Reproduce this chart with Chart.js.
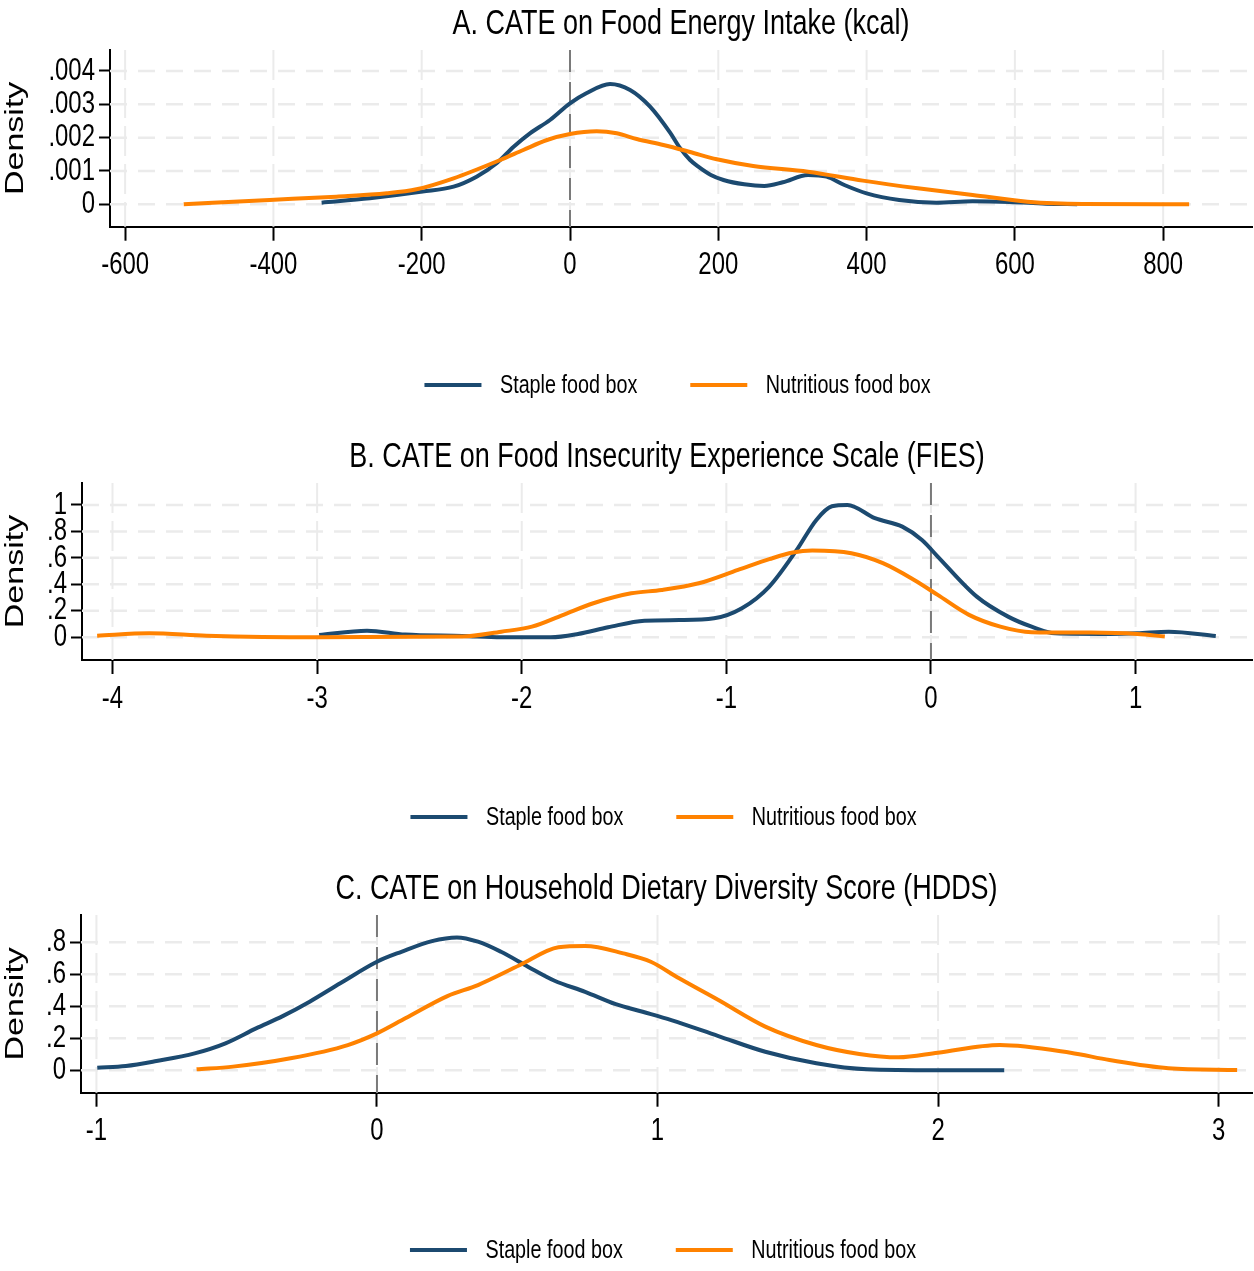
<!DOCTYPE html>
<html>
<head>
<meta charset="utf-8">
<script src="https://cdn.jsdelivr.net/npm/chart.js@4.4.1/dist/chart.umd.min.js"></script>
<style>
  html, body { margin: 0; padding: 0; background: #fff; overflow: hidden; }
  body { width: 1254px; height: 1271px; position: relative; }
  .panel { position: absolute; left: 0; width: 1254px; height: 415px; }
</style>
</head>
<body>
<div class="panel" style="top:0px"><canvas id="chartA"></canvas></div>
<div class="panel" style="top:433px"><canvas id="chartB"></canvas></div>
<div class="panel" style="top:865px"><canvas id="chartC"></canvas></div>
<script>
const seriesNames = ["Staple food box", "Nutritious food box"];

// A. food energy intake (kcal)
const aStapleX = [-335, -270, -199, -157, -126, -99, -76, -54, -27, 0, 22, 54, 81, 108, 135, 148, 162, 173, 190, 207, 235, 262, 287, 321, 346, 370, 400, 444, 494, 543, 593, 642, 684];
const aStapleY = [0.00005, 0.00018, 0.00038, 0.00053, 0.00083, 0.00123, 0.00173, 0.00213, 0.00253, 0.00303, 0.00333, 0.00361, 0.00343, 0.00293, 0.00215, 0.00170, 0.00133, 0.00113, 0.00088, 0.00073, 0.00060, 0.00055, 0.00066, 0.00088, 0.00083, 0.00058, 0.00033, 0.00013, 0.00005, 0.00009, 0.00007, 0.00002, 0];
const aNutriX = [-521, -405, -315, -247, -207, -157, -94, -63, -31, 0, 36, 63, 90, 126, 162, 198, 247, 321, 395, 469, 543, 617, 691, 835];
const aNutriY = [0, 0.00013, 0.00023, 0.00033, 0.00045, 0.00078, 0.00133, 0.00163, 0.00193, 0.00211, 0.00219, 0.00213, 0.00196, 0.00178, 0.00157, 0.00135, 0.00115, 0.00098, 0.00071, 0.00048, 0.00028, 0.00008, 0.00001, 0];
const aXTicks = [-600, -400, -200, 0, 200, 400, 600, 800];
const aYTicks = [0, 0.001, 0.002, 0.003, 0.004];
const aYTickLabels = ["0", ".001", ".002", ".003", ".004"];

// B. food insecurity experience scale
const bStapleX = [-2.99, -2.756, -2.57, -2.29, -2.1, -1.858, -1.725, -1.578, -1.4, -1.23, -1.06, -0.924, -0.79, -0.656, -0.56, -0.484, -0.408, -0.274, -0.14, -0.044, 0.033, 0.224, 0.377, 0.492, 0.607, 0.874, 1.008, 1.162, 1.392];
const bStapleY = [0.017, 0.05, 0.02, 0.01, 0, 0, 0.025, 0.075, 0.125, 0.13, 0.143, 0.219, 0.383, 0.66, 0.887, 0.99, 1.0, 0.9, 0.836, 0.735, 0.61, 0.307, 0.156, 0.08, 0.03, 0.025, 0.03, 0.042, 0.01];
const bNutriX = [-4.075, -3.82, -3.54, -3.0, -2.29, -2.1, -1.95, -1.8, -1.65, -1.465, -1.316, -1.135, -0.943, -0.79, -0.675, -0.58, -0.389, -0.235, -0.082, 0.033, 0.186, 0.339, 0.492, 0.779, 1.008, 1.143];
const bNutriY = [0.012, 0.03, 0.012, 0, 0.005, 0.042, 0.08, 0.168, 0.257, 0.332, 0.357, 0.408, 0.509, 0.59, 0.64, 0.655, 0.635, 0.56, 0.433, 0.32, 0.169, 0.08, 0.038, 0.035, 0.025, 0.005];
const bXTicks = [-4, -3, -2, -1, 0, 1];
const bYTicks = [0, 0.2, 0.4, 0.6, 0.8, 1];
const bYTickLabels = ["0", ".2", ".4", ".6", ".8", "1"];

// C. household dietary diversity score
const cStapleX = [-0.997, -0.895, -0.786, -0.65, -0.54, -0.431, -0.336, -0.24, -0.131, 0, 0.087, 0.196, 0.285, 0.36, 0.442, 0.538, 0.633, 0.742, 0.851, 0.947, 1.049, 1.217, 1.384, 1.566, 1.747, 2.0, 2.236];
const cStapleY = [0.016, 0.027, 0.058, 0.106, 0.169, 0.262, 0.339, 0.429, 0.544, 0.679, 0.741, 0.808, 0.831, 0.804, 0.741, 0.648, 0.56, 0.491, 0.414, 0.366, 0.314, 0.214, 0.116, 0.044, 0.006, 0, 0];
const cNutriX = [-0.643, -0.513, -0.308, -0.104, 0, 0.101, 0.251, 0.36, 0.51, 0.647, 0.742, 0.878, 0.976, 1.077, 1.217, 1.384, 1.566, 1.719, 1.859, 1.999, 2.22, 2.472, 2.611, 2.821, 3.066];
const cNutriY = [0.006, 0.023, 0.075, 0.158, 0.231, 0.325, 0.464, 0.533, 0.658, 0.769, 0.777, 0.731, 0.679, 0.575, 0.439, 0.273, 0.158, 0.102, 0.081, 0.11, 0.158, 0.11, 0.064, 0.013, 0.002];
const cXTicks = [-1, 0, 1, 2, 3];
const cYTicks = [0, 0.2, 0.4, 0.6, 0.8];
const cYTickLabels = ["0", ".2", ".4", ".6", ".8"];

const NAVY = "#1c4a70";
const ORANGE = "#ff8200";
const SANS = "'Liberation Sans', Arial, Helvetica, sans-serif";
const SQUASH = 0.76;   // narrow lettering, Stata style

const pairs = (xs, ys) => xs.map((x, i) => ({ x, y: ys[i] }));

// every string drawn on this context comes out horizontally condensed
function condense(ctx, k) {
  const fill = ctx.fillText.bind(ctx);
  const measure = ctx.measureText.bind(ctx);
  ctx.fillText = (text, x, y) => {
    ctx.save();
    ctx.translate(x, y);
    ctx.scale(k, 1);
    fill(text, 0, 0);
    ctx.restore();
  };
  ctx.measureText = (text) => {
    const m = measure(text);
    return { width: m.width * k, actualBoundingBoxAscent: m.actualBoundingBoxAscent, actualBoundingBoxDescent: m.actualBoundingBoxDescent };
  };
}

// light dashed grid plus the dark dashed line at zero
const stataGrid = {
  id: "stataGrid",
  beforeDatasetsDraw(chart) {
    const { ctx, chartArea: a, scales: { x, y } } = chart;
    const seg = (x1, y1, x2, y2) => { ctx.beginPath(); ctx.moveTo(x1, y1); ctx.lineTo(x2, y2); ctx.stroke(); };
    ctx.save();
    ctx.strokeStyle = "#ebebeb";
    ctx.lineWidth = 2;
    ctx.setLineDash([30, 8]);
    x.ticks.forEach(t => { const px = x.getPixelForValue(t.value); seg(px, a.top, px, a.bottom); });
    ctx.lineWidth = 2.5;
    ctx.setLineDash([17, 11]);
    y.ticks.forEach(t => { const py = y.getPixelForValue(t.value); seg(a.left, py, a.right, py); });
    ctx.strokeStyle = "#7a7a7a";
    ctx.lineWidth = 2;
    ctx.setLineDash([22, 10]);
    const z = x.getPixelForValue(0);
    seg(z, a.top, z, a.bottom);
    ctx.restore();
  }
};

// rotated "Density" title and the line-sample legend under the axis
const stataText = {
  id: "stataText",
  afterDraw(chart, args, o) {
    const { ctx, chartArea: a } = chart;
    ctx.save();
    ctx.fillStyle = "#000";
    ctx.font = "34px " + SANS;
    ctx.textAlign = "center";
    ctx.textBaseline = "alphabetic";
    ctx.save();
    ctx.translate(o.yTitleX, (a.top + a.bottom) / 2);
    ctx.rotate(-Math.PI / 2);
    // undo the run-wise squeeze, then thin the letters across the baseline
    ctx.scale(1 / SQUASH, SQUASH);
    ctx.fillText(o.yTitle, 0, 0);
    ctx.restore();

    ctx.font = "26px " + SANS;
    ctx.textAlign = "left";
    const sets = chart.data.datasets;
    const widths = sets.map(d => ctx.measureText(d.label).width);
    const total = widths.reduce((s, w) => s + 57 + 18.5 + w, 0) + 53;
    let x = (a.left + a.right) / 2 - 3.5 - total / 2;
    sets.forEach((d, i) => {
      ctx.fillStyle = d.borderColor;
      ctx.fillRect(x, o.legendY - 2, 57, 4);
      x += 57 + 18.5;
      ctx.fillStyle = "#000";
      ctx.fillText(d.label, x, o.legendY + 7.7);
      x += widths[i] + 53;
    });
    ctx.restore();
  }
};

function makePanel(id, p) {
  // p.top / plotTop / plotBottom / legendY are page pixels
  const titleBox = p.plotTop - p.top;
  const titleSize = 35.5;
  const xAxisH = 60;
  const padBottom = 415 - (p.plotBottom - p.top) - xAxisH;

  const canvas = document.getElementById(id);
  condense(canvas.getContext("2d"), SQUASH);

  return new Chart(canvas, {
    type: "line",
    data: {
      datasets: [
        { label: seriesNames[0], data: pairs(p.staple[0], p.staple[1]), borderColor: NAVY, backgroundColor: NAVY, order: 1 },
        { label: seriesNames[1], data: pairs(p.nutri[0], p.nutri[1]), borderColor: ORANGE, backgroundColor: ORANGE, order: 0 },
      ],
    },
    options: {
      responsive: true,
      maintainAspectRatio: false,
      animation: false,
      layout: { padding: { left: 0, right: 2, top: 0, bottom: padBottom } },
      elements: {
        line: { borderWidth: 4, cubicInterpolationMode: "monotone", fill: false },
        point: { radius: 0, hoverRadius: 0 },
      },
      scales: {
        x: {
          type: "linear",
          min: p.xMin, max: p.xMax,
          afterBuildTicks: (s) => { s.ticks = p.xTicks.map(v => ({ value: v })); },
          afterFit: (s) => { s.height = xAxisH; },
          ticks: { color: "#000", font: { family: SANS, size: 31.5 }, padding: 6, maxRotation: 0, autoSkip: false },
          grid: { drawOnChartArea: false, drawTicks: true, tickLength: 14, tickColor: "#000", tickWidth: 2 },
          border: { display: true, color: "#000", width: 2 },
        },
        y: {
          type: "linear",
          min: p.yMin, max: p.yMax,
          afterBuildTicks: (s) => { s.ticks = p.yTicks.map(v => ({ value: v })); },
          afterFit: (s) => { s.width = p.left; },
          ticks: {
            color: "#000", font: { family: SANS, size: 31.5 }, padding: 4, autoSkip: false,
            callback: (v) => p.yLabels[p.yTicks.indexOf(v)],
          },
          grid: { drawOnChartArea: false, drawTicks: true, tickLength: 11, tickColor: "#000", tickWidth: 2 },
          border: { display: true, color: "#000", width: 2 },
        },
      },
      plugins: {
        title: {
          display: true, text: p.title, color: "#000", fullSize: false,
          font: { family: SANS, size: titleSize, weight: "normal", lineHeight: 1.2 },
          padding: { top: 3, bottom: titleBox - 3 - titleSize * 1.2 },
        },
        legend: { display: false },
        tooltip: { enabled: false },
        stataText: { yTitle: "Density", yTitleX: 23, legendY: p.legendY - p.top },
      },
    },
    plugins: [stataGrid, stataText],
  });
}

makePanel("chartA", {
  title: "A. CATE on Food Energy Intake (kcal)",
  top: 0, plotTop: 50, plotBottom: 226.7, legendY: 385, left: 110,
  xMin: -620.4, xMax: 919.8, yMin: -0.000672, yMax: 0.00463,
  xTicks: aXTicks, yTicks: aYTicks, yLabels: aYTickLabels,
  staple: [aStapleX, aStapleY], nutri: [aNutriX, aNutriY],
});
makePanel("chartB", {
  title: "B. CATE on Food Insecurity Experience Scale (FIES)",
  top: 433, plotTop: 483, plotBottom: 660, legendY: 817, left: 82,
  xMin: -4.149, xMax: 1.569, yMin: -0.172, yMax: 1.166,
  xTicks: bXTicks, yTicks: bYTicks, yLabels: bYTickLabels,
  staple: [bStapleX, bStapleY], nutri: [bNutriX, bNutriY],
});
makePanel("chartC", {
  title: "C. CATE on Household Dietary Diversity Score (HDDS)",
  top: 865, plotTop: 915, plotBottom: 1092.7, legendY: 1250, left: 81,
  xMin: -1.055, xMax: 3.119, yMin: -0.14, yMax: 0.971,
  xTicks: cXTicks, yTicks: cYTicks, yLabels: cYTickLabels,
  staple: [cStapleX, cStapleY], nutri: [cNutriX, cNutriY],
});
</script>
</body>
</html>
